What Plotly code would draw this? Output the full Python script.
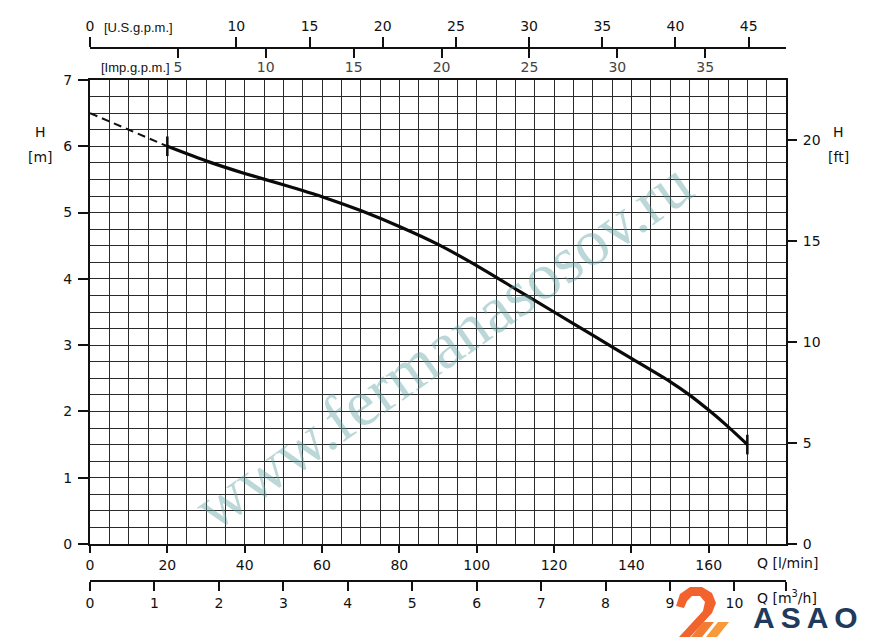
import plotly.graph_objects as go

# pump curve (Q in l/min, H in m)
q_dashed = [0, 20]
h_dashed = [6.5, 6.0]
q_curve = [20, 30, 40, 50, 60, 70, 80, 90, 100, 110, 120, 130, 140, 150, 155, 160, 165, 170]
h_curve = [6.0, 5.78, 5.59, 5.42, 5.24, 5.03, 4.79, 4.52, 4.2, 3.85, 3.5, 3.15, 2.8, 2.45, 2.25, 2.02, 1.77, 1.5]
q_marks = [20, 170]
h_marks = [6.0, 1.5]

# axis ticks
q_ticks = [0, 20, 40, 60, 80, 100, 120, 140, 160]
h_ticks = [0, 1, 2, 3, 4, 5, 6, 7]
ft_ticks = [0, 5, 10, 15, 20]
m3h_ticks = [0, 1, 2, 3, 4, 5, 6, 7, 8, 9, 10]
usgpm_ticks = [0, 10, 15, 20, 25, 30, 35, 40, 45]
impgpm_ticks = [0, 5, 10, 15, 20, 25, 30, 35]

Q_MAX = 180.0
H_MAX = 7.0
US_GAL = 3.785411784
IMP_GAL = 4.54609
FT = 0.3048

OFF = 8                           # page body margin
W, H = 869 - OFF, 637 - OFF
L, R, T, B = 90, 786, 48, 581     # pixel box of the whole axis system (reference coords)
Y_TOP, Y_BOT = 80, 544            # grid area


def px(x):
    return (x - L) / (R - L)


def py(y):
    return (B - y) / (B - T)


FONT = dict(family="DejaVu Sans, Liberation Sans, sans-serif", size=14, color="#111")
SMALL = dict(family="Liberation Sans, DejaVu Sans, sans-serif", size=13, color="#111")
GRID = "#2a2a2a"

fig = go.Figure()

fig.add_trace(go.Scatter(x=q_dashed, y=h_dashed, mode="lines",
                         line=dict(color="#111", width=2, dash="8px,5px"),
                         showlegend=False, hoverinfo="skip"))
fig.add_trace(go.Scatter(x=q_curve, y=h_curve, mode="lines",
                         line=dict(color="#0a0a0a", width=3.2, shape="spline", smoothing=0.5),
                         showlegend=False))
fig.add_trace(go.Scatter(x=q_marks, y=h_marks, mode="markers",
                         marker=dict(symbol="line-ns", size=14, line=dict(color="#0a0a0a", width=2.5)),
                         showlegend=False, hoverinfo="skip"))
# invisible traces to activate the extra axes
for xa, ya in [("x2", "y"), ("x3", "y"), ("x4", "y"), ("x", "y2")]:
    fig.add_trace(go.Scatter(x=[0], y=[0], xaxis=xa, yaxis=ya, mode="markers",
                             marker=dict(opacity=0), showlegend=False, hoverinfo="skip"))

ydom = [py(Y_BOT), py(Y_TOP)]
tick = dict(tickwidth=1.5, tickcolor="#111")

fig.update_layout(
    width=W, height=H,
    margin=dict(l=L - OFF, r=W - (R - OFF), t=T - OFF, b=H - (B - OFF), pad=0),
    paper_bgcolor="white", plot_bgcolor="white",
    font=FONT,
    xaxis=dict(
        range=[0, Q_MAX], domain=[0, 1], anchor="y",
        tickvals=q_ticks, ticks="outside", ticklen=7, **tick,
        showgrid=True, gridcolor=GRID, gridwidth=1.3,
        minor=dict(dtick=5, showgrid=True, gridcolor=GRID, gridwidth=1.3, ticks=""),
        showline=True, linecolor="#111", linewidth=2, mirror=True,
        zeroline=False, fixedrange=True, automargin=False,
    ),
    yaxis=dict(
        range=[0, H_MAX], domain=ydom, anchor="x",
        tickvals=h_ticks, ticks="outside", ticklen=10, **tick,
        showgrid=True, gridcolor=GRID, gridwidth=1.3,
        minor=dict(dtick=0.25, showgrid=True, gridcolor=GRID, gridwidth=1.3, ticks=""),
        showline=True, linecolor="#111", linewidth=2, mirror=True,
        zeroline=False, fixedrange=True, ticklabelstandoff=3, automargin=False,
    ),
    yaxis2=dict(
        range=[0, H_MAX / FT], overlaying="y", side="right", anchor="x",
        tickvals=ft_ticks, ticks="outside", ticklen=10, **tick,
        showgrid=False, zeroline=False, showline=False, fixedrange=True,
        ticklabelstandoff=3, automargin=False,
    ),
    xaxis2=dict(
        range=[0, Q_MAX / US_GAL], overlaying="x", anchor="free", position=1, side="top",
        tickvals=usgpm_ticks, ticks="outside", ticklen=10, **tick,
        showline=True, linecolor="#111", linewidth=2,
        showgrid=False, zeroline=False, fixedrange=True, automargin=False,
    ),
    xaxis4=dict(
        range=[0, Q_MAX / IMP_GAL], overlaying="x", anchor="free", position=1, side="top",
        tickvals=impgpm_ticks, ticks="inside", ticklen=9, **tick,
        ticklabelposition="inside", ticklabelstandoff=4,
        showline=False, showgrid=False, zeroline=False, fixedrange=True, automargin=False,
    ),
    xaxis3=dict(
        range=[0, Q_MAX * 60 / 1000], overlaying="x", anchor="free", position=0, side="bottom",
        tickvals=m3h_ticks, ticks="outside", ticklen=9, **tick,
        minor=dict(tickvals=[Q_MAX * 60 / 1000], ticks="outside", ticklen=9, **tick),
        showline=True, linecolor="#111", linewidth=2,
        showgrid=False, zeroline=False, fixedrange=True, automargin=False,
    ),
)

ann = [
    ("[U.S.g.p.m.]", 102, 27, "left", SMALL),
    ("[Imp.g.p.m.]", 99, 67, "left", SMALL),
    ("H", 40, 132, "center", FONT),
    ("[m]", 40, 157, "center", FONT),
    ("H", 838, 132, "center", FONT),
    ("[ft]", 838, 157, "center", FONT),
    ("Q [l/min]", 787, 563, "center", FONT),
    ("Q [m<sup>3</sup>/h]", 787, 597, "center", FONT),
]
for text, x, y, anchor, f in ann:
    fig.add_annotation(text=text, x=px(x), y=py(y), xref="paper", yref="paper",
                       showarrow=False, xanchor=anchor, yanchor="middle", font=f)

# watermark
fig.add_annotation(text="www.fermanasosov.ru", x=px(442), y=py(345), xref="paper", yref="paper",
                   showarrow=False, textangle=-35,
                   font=dict(family="Liberation Serif, DejaVu Serif, serif", size=66,
                             color="rgba(95,160,160,0.42)"))

# logo
fig.add_annotation(text="<b>A\u2009S\u2009A\u2009O</b>", x=px(805), y=py(636), xref="paper", yref="paper",
                   showarrow=False, xanchor="center", yanchor="bottom",
                   font=dict(family="Liberation Sans, Arial, sans-serif", size=30, color="#1e3a5c"))


def path(points):
    return "M " + " L ".join(f"{px(x):.4f},{py(y):.4f}" for x, y in points) + " Z"


swoop = [(676, 606), (680, 594), (690, 587), (702, 587), (712, 593), (716, 603),
         (712, 613), (690, 637), (679, 637), (703, 611), (705, 602), (700, 596),
         (692, 596), (687, 601), (684, 608)]
fig.add_shape(type="path", path=path(swoop), xref="paper", yref="paper",
              fillcolor="#f2622d", line=dict(width=0))
fig.add_shape(type="path", path=path([(703, 622), (714, 622), (702, 637), (691, 637)]),
              xref="paper", yref="paper", fillcolor="#f47b32", line=dict(width=0))
fig.add_shape(type="path", path=path([(718, 622), (729, 622), (717, 637), (706, 637)]),
              xref="paper", yref="paper", fillcolor="#f79a3c", line=dict(width=0))

fig.write_html("out.html")
